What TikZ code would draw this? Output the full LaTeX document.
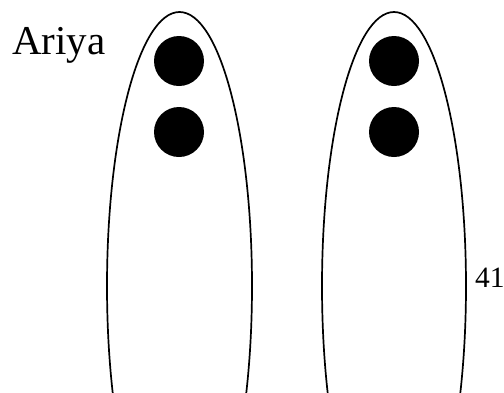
\documentclass[tikz,border=0pt]{standalone}
\usepackage{fontspec}
\setmainfont{Liberation Serif}
\begin{document}
\begin{tikzpicture}[x=1pt,y=-1pt,
  pod/.style={draw=black,line width=1.7pt},
  seed/.style={circle,fill=black,minimum size=50pt,inner sep=0pt}]
\useasboundingbox (0,0) rectangle (504,392);
\begin{scope}
\clip (0,0) rectangle (504,392);
\draw[pod] (179.5,286) ellipse [x radius=72.5, y radius=274];
\draw[pod] (394,286) ellipse [x radius=72, y radius=274];
\end{scope}
\node[seed] (a1) at (179,61) {};
\node[seed] (a2) at (179,132) {};
\node[seed] (b1) at (394,61) {};
\node[seed] (b2) at (394,132) {};
\node[anchor=base west,inner sep=0pt,font=\fontsize{41}{41}\selectfont] (lab) at (12,54) {Ariya};
\node[anchor=base west,inner sep=0pt,font=\fontsize{29.5}{29.5}\selectfont] (num) at (475,287) {41};
\end{tikzpicture}
\end{document}
